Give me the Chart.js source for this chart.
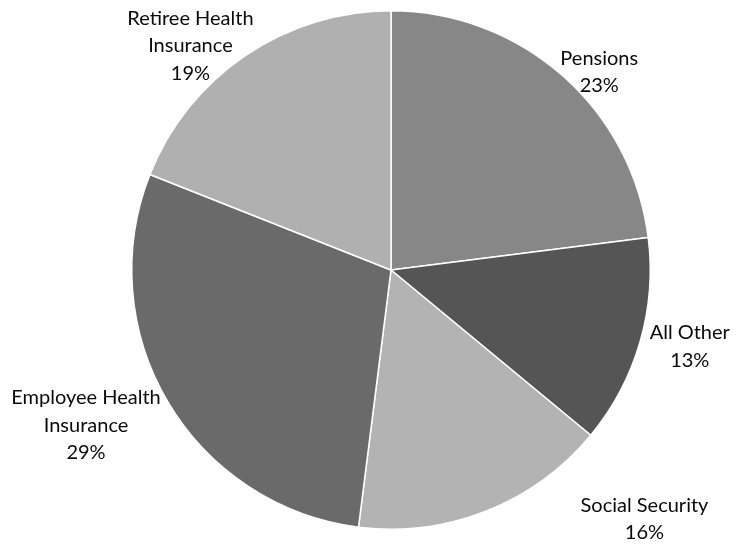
<!DOCTYPE html>
<html>
<head>
<meta charset="utf-8">
<script src="https://cdn.jsdelivr.net/npm/chart.js@4"></script>
<style>
  html, body { margin: 0; padding: 0; background: #fff; }
  #wrap { width: 744px; height: 546px; }
</style>
</head>
<body>
<div id="wrap"><canvas id="myChart"></canvas></div>
<script>
let categories = ['Pensions', 'All Other', 'Social Security', 'Employee Health Insurance', 'Retiree Health Insurance'];
let shares = [23, 13, 16, 29, 19];
let labelLines = [['Pensions'], ['All Other'], ['Social Security'], ['Employee Health', 'Insurance'], ['Retiree Health', 'Insurance']];
let sliceColors = ['#878787', '#555555', '#b3b3b3', '#6a6a6a', '#b0b0b0'];

// where each label sits relative to the edge of its slice
let labelNudge = [[17, 19], [21, -4], [147, -20], [-56, 8], [-38, 15]];

const outsideLabels = {
  id: 'outsideLabels',
  afterDraw(chart) {
    const ctx = chart.ctx;
    const arcs = chart.getDatasetMeta(0).data;
    ctx.save();
    ctx.font = '20px Lato';
    ctx.fillStyle = '#0a0a0a';
    ctx.textAlign = 'center';
    ctx.textBaseline = 'middle';
    const lineH = 27.5;
    for (let i = 0; i < arcs.length; i++) {
      const a = arcs[i];
      const mid = (a.startAngle + a.endAngle) / 2;
      const d = a.outerRadius + 30;
      const x = a.x + Math.cos(mid) * d + labelNudge[i][0];
      const y = a.y + Math.sin(mid) * d + labelNudge[i][1];
      const lines = labelLines[i].concat([shares[i] + '%']);
      const top = y - (lines.length - 1) * lineH / 2;
      lines.forEach((t, k) => ctx.fillText(t, x, top + k * lineH));
    }
    ctx.restore();
  }
};

new Chart(document.getElementById('myChart'), {
  type: 'pie',
  data: {
    labels: categories,
    datasets: [{
      data: shares,
      backgroundColor: sliceColors,
      borderColor: '#ffffff',
      borderWidth: 1.5
    }]
  },
  options: {
    responsive: true,
    maintainAspectRatio: false,
    animation: false,
    layout: { padding: { left: 131, right: 93, top: 10, bottom: 16 } },
    plugins: {
      legend: { display: false },
      tooltip: { enabled: false }
    }
  },
  plugins: [outsideLabels]
});
</script>
</body>
</html>
